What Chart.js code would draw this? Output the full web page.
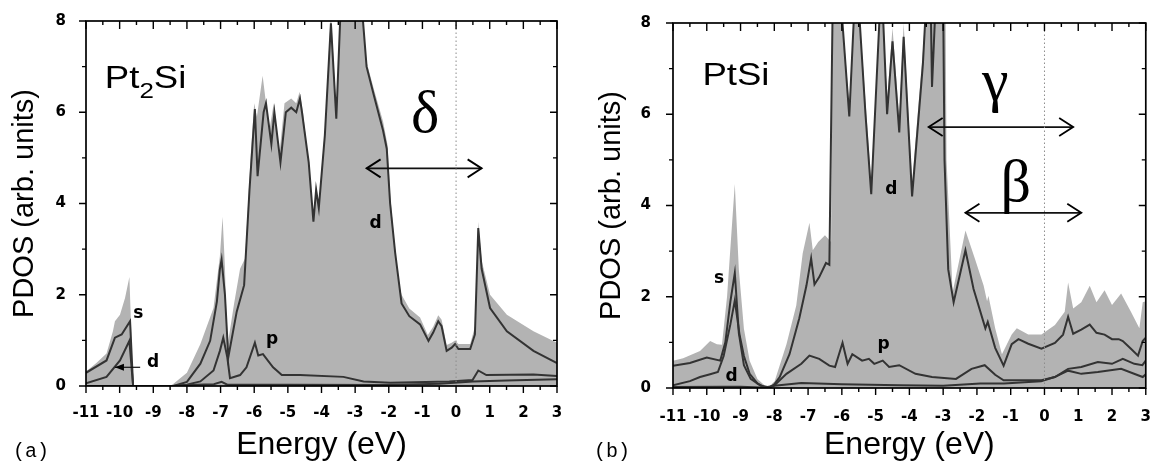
<!DOCTYPE html>
<html>
<head>
<meta charset="utf-8">
<script src="https://cdn.jsdelivr.net/npm/chart.js@4"></script>
<style>
html,body{margin:0;padding:0;background:#fff;overflow:hidden;}
#wrap{position:relative;width:1152px;height:467px;overflow:hidden;}
canvas{position:absolute;top:0;}
#ca{left:0;}
#cb{left:587px;}
</style>
</head>
<body>
<div id="wrap">
  <canvas id="ca" width="576" height="467"></canvas>
  <canvas id="cb" width="576" height="467"></canvas>
</div>
<script>
/* PDOS of Pt in Pt2Si (a) and PtSi (b) */

const X_TICKS = [-11,-10,-9,-8,-7,-6,-5,-4,-3,-2,-1,0,1,2,3];
const Y_TICKS = [0,2,4,6,8];

// ── (a) Pt2Si ───────────────────────────────────────────────────────────────
const A_TOT = [[-11,0.32],[-10.7,0.5],[-10.39,0.71],[-10.2,1.2],[-10.14,1.42],[-9.99,1.56],[-9.84,1.93],
  [-9.71,2.39],[-9.6,0],[-8.5,0],[-8.4,0.05],[-8.0,0.29],[-7.6,0.92],[-7.21,1.71],[-7.02,2.85],[-6.94,3.71],
  [-6.87,2.6],[-6.8,0.85],[-6.6,1.8],[-6.42,2.57],[-6.27,2.8],[-6.1,5.1],[-6.0,6.2],[-5.92,5.9],[-5.75,6.8],
  [-5.55,5.6],[-5.42,6.2],[-5.25,5.1],[-5.1,6.2],[-4.9,6.3],[-4.75,6.2],[-4.65,6.45],[-4.55,6.0],[-4.4,5.0],
  [-4.24,3.7],[-4.16,4.4],[-4.08,4.0],[-3.9,5.6],[-3.72,8.2],[-3.56,6.0],[-3.42,8.5],[-2.82,8.5],[-2.66,7.1],
  [-2.44,6.5],[-2.17,5.8],[-2.04,5.3],[-1.96,4.2],[-1.84,3.2],[-1.72,2.3],[-1.62,2.0],[-1.39,1.7],[-1.07,1.5],
  [-0.84,1.12],[-0.68,1.3],[-0.53,1.55],[-0.43,1.45],[-0.28,0.9],[-0.13,0.95],[-0.03,1.0],[0.07,0.92],
  [0.42,0.92],[0.56,1.3],[0.66,3.6],[0.76,2.75],[1.01,2.0],[1.51,1.56],[2.3,1.2],[3.0,0.95]];
const A_S = [[-11,0.29],[-10.39,0.56],[-10.14,1.06],[-9.94,1.13],[-9.69,1.42],[-9.6,0],[-8.4,0],[-8.0,0.02],
  [-7.2,0.04],[-6.97,0.09],[-6.8,0.03],[-5,0.03],[-2,0.02],[-0.5,0.05],[0.5,0.1],[1.5,0.12],[3.0,0.15]];
const A_P = [[-11,0],[-8.4,0],[-8.0,0.03],[-7.6,0.1],[-7.21,0.34],[-7.02,0.77],[-6.92,1.06],[-6.8,0.63],
  [-6.72,0.17],[-6.42,0.24],[-6.23,0.41],[-5.98,0.95],[-5.88,0.67],[-5.74,0.7],[-5.44,0.41],[-5.18,0.24],
  [-4.64,0.24],[-3.35,0.2],[-2.75,0.1],[-1.96,0.07],[-0.2,0.1],[0.49,0.13],[0.66,0.34],[0.9,0.24],
  [2.3,0.25],[3.0,0.22]];
const A_D = [[-11,0.06],[-10.39,0.2],[-9.99,0.56],[-9.71,0.99],[-9.6,0],[-8.4,0],[-8.0,0.09],[-7.6,0.49],
  [-7.31,0.99],[-7.11,1.85],[-7.02,2.56],[-6.97,2.77],[-6.87,2.0],[-6.77,0.63],[-6.52,1.63],[-6.3,2.21],
  [-6.14,4.3],[-5.98,6.07],[-5.9,4.6],[-5.72,6.0],[-5.65,6.2],[-5.49,5.3],[-5.4,6.0],[-5.22,4.9],[-5.06,6.0],
  [-4.9,6.1],[-4.75,6.0],[-4.64,6.3],[-4.58,6.0],[-4.38,4.9],[-4.24,3.6],[-4.16,4.3],[-4.08,3.9],[-3.9,5.5],
  [-3.72,7.95],[-3.56,5.86],[-3.42,8.5],[-2.82,8.5],[-2.66,7.0],[-2.44,6.36],[-2.17,5.6],[-2.06,5.2],
  [-1.96,4.0],[-1.81,2.92],[-1.62,1.81],[-1.39,1.53],[-1.07,1.35],[-0.82,0.99],[-0.68,1.17],[-0.53,1.42],
  [-0.43,1.31],[-0.28,0.77],[-0.13,0.84],[-0.03,0.92],[0.07,0.81],[0.42,0.81],[0.56,1.13],[0.66,3.46],
  [0.76,2.57],[1.01,1.71],[1.51,1.2],[2.3,0.77],[3.0,0.5]];

// ── (b) PtSi ────────────────────────────────────────────────────────────────
const B_TOT = [[-11,0.6],[-10.7,0.65],[-10.2,0.81],[-9.9,1.03],[-9.7,0.96],[-9.55,0.95],[-9.4,2.0],
  [-9.17,4.47],[-9.05,2.6],[-8.9,1.3],[-8.73,0.6],[-8.5,0.2],[-8.2,0],[-7.99,0.15],[-7.64,0.96],[-7.35,1.81],
  [-7.16,2.95],[-6.96,3.62],[-6.86,3.02],[-6.7,3.2],[-6.5,3.35],[-6.32,3.2],[-6.27,8.5],[-6.03,8.5],
  [-5.78,6.2],[-5.62,8.5],[-5.51,8.5],[-5.3,6.3],[-5.13,4.5],[-4.86,8.5],[-4.8,8.5],[-4.66,6.3],[-4.5,7.9],
  [-4.3,5.9],[-4.17,8.0],[-3.92,4.5],[-3.6,7.4],[-3.5,8.5],[-2.93,8.5],[-2.9,5.0],[-2.72,2.1],[-2.34,3.45],
  [-2.05,2.81],[-1.8,2.24],[-1.7,1.9],[-1.66,2.02],[-1.46,1.31],[-1.26,0.74],[-0.97,1.17],[-0.82,1.31],
  [-0.48,1.17],[-0.09,1.17],[0.31,1.38],[0.6,1.67],[0.7,2.31],[0.85,1.74],[1.09,1.88],[1.34,2.24],[1.54,1.88],
  [1.78,2.14],[2.0,1.82],[2.27,2.07],[2.56,1.67],[2.81,1.31],[2.91,1.88],[3.0,1.9]];
const B_S = [[-11,0.49],[-10.5,0.55],[-10.0,0.67],[-9.6,0.6],[-9.45,1.0],[-9.3,1.9],[-9.17,2.52],[-9.05,1.2],
  [-8.9,0.5],[-8.7,0.2],[-8.4,0.05],[-8.2,0.02],[-8.0,0.05],[-7.2,0.11],[-6.0,0.08],[-4.3,0.06],[-3.0,0.05],
  [-1.9,0.1],[-1.2,0.1],[-0.1,0.15],[0.3,0.24],[0.7,0.38],[1.09,0.31],[1.58,0.35],[2.27,0.42],[2.77,0.28],
  [2.91,0.24],[3.0,0.3]];
const B_P = [[-11,0.02],[-9.5,0.03],[-9.0,0.03],[-8.4,0.01],[-8.2,0],[-7.99,0.06],[-7.64,0.31],[-7.2,0.53],
  [-6.96,0.71],[-6.67,0.64],[-6.37,0.49],[-6.2,0.46],[-5.98,0.99],[-5.83,0.53],[-5.69,0.74],[-5.4,0.6],
  [-5.2,0.64],[-5.04,0.53],[-4.79,0.6],[-4.6,0.46],[-4.3,0.5],[-3.82,0.31],[-3.33,0.24],[-2.62,0.2],
  [-2.16,0.42],[-1.77,0.5],[-1.46,0.29],[-1.21,0.17],[-0.67,0.17],[-0.09,0.17],[0.31,0.24],[0.7,0.42],
  [1.09,0.46],[1.58,0.57],[2.0,0.53],[2.32,0.64],[2.66,0.53],[2.9,0.5],[3.0,0.6]];
const B_D = [[-11,0.06],[-10.5,0.15],[-10.2,0.24],[-9.9,0.3],[-9.67,0.35],[-9.5,0.7],[-9.3,1.4],[-9.17,1.92],
  [-9.03,1.17],[-8.9,0.7],[-8.73,0.31],[-8.5,0.1],[-8.3,0.02],[-8.15,0],[-8.0,0.08],[-7.84,0.24],[-7.55,0.74],
  [-7.26,1.53],[-7.05,2.24],[-6.91,2.84],[-6.81,2.27],[-6.67,2.43],[-6.47,2.74],[-6.37,2.7],[-6.27,8.5],
  [-6.03,8.5],[-5.78,5.95],[-5.62,8.5],[-5.51,8.5],[-5.3,6.0],[-5.13,4.25],[-4.86,8.5],[-4.8,8.5],[-4.66,6.0],
  [-4.5,7.6],[-4.3,5.6],[-4.17,7.7],[-3.92,4.2],[-3.6,7.1],[-3.5,8.5],[-3.37,8.5],[-3.33,6.6],[-3.22,8.5],
  [-3.0,8.5],[-2.96,5.0],[-2.85,2.6],[-2.69,1.88],[-2.34,3.02],[-2.1,2.17],[-1.75,1.31],[-1.68,1.45],
  [-1.46,0.88],[-1.21,0.49],[-0.97,0.96],[-0.77,1.07],[-0.48,0.97],[-0.09,0.86],[0.31,0.99],[0.55,1.17],
  [0.7,1.56],[0.85,1.19],[1.09,1.28],[1.34,1.39],[1.54,1.21],[1.78,1.17],[2.0,1.07],[2.2,1.07],[2.32,1.03],
  [2.56,0.86],[2.77,0.71],[2.91,1.03],[3.0,1.1]];

// labels & arrows (data coords)
const A_LABELS = [["s",-9.45,1.59],["d",-9.02,0.56],["p",-5.46,0.99],["d",-2.41,3.62]];
const A_GREEK  = [["δ",-0.91,6.02]];
const A_ARROWS = [[-2.66,0.76,4.77]];
const A_POINTER = [[-9.39,-10.14,0.41]];
const B_LABELS = [["s",-9.64,2.42],["d",-9.28,0.31],["p",-4.75,0.93],["d",-4.55,4.41]];
const B_GREEK  = [["γ",-1.48,6.46],["β",-0.84,4.41]];
const B_ARROWS = [[-3.43,0.85,5.72],[-2.34,1.09,3.84]];

const SANS  = '"Liberation Sans", Arial, Helvetica, sans-serif';
const WIDE  = '"DejaVu Sans", Verdana, sans-serif';
const SERIF = '"Liberation Serif", "Times New Roman", serif';
const MONO  = '"Liberation Mono", "Courier New", monospace';
const LINE = "#333", FILL = "#b3b3b3";

const xy = a => a.map(([x,y]) => ({x,y}));

// text centred on its glyph box
function centred(ctx, t, font, px, py){
    ctx.font = font;
    const m = ctx.measureText(t);
    const x0 = -(m.actualBoundingBoxRight - m.actualBoundingBoxLeft)/2;
    const y0 = (m.actualBoundingBoxAscent - m.actualBoundingBoxDescent)/2;
    ctx.fillText(t, px + x0, py + y0);
}

function chevron(ctx, px, py, dir){
    ctx.beginPath();
    ctx.moveTo(px - dir*14, py - 9);
    ctx.lineTo(px, py);
    ctx.lineTo(px - dir*14, py + 9);
    ctx.stroke();
}

const decor = {
    id: "decor",
    afterDatasetsDraw(c, args, o){
        const {ctx, chartArea:a, scales:{x, y}} = c;
        ctx.save();
        ctx.strokeStyle = "#000"; ctx.fillStyle = "#000";

        // frame + ticks (bottom/left outward, top/right inward)
        ctx.lineWidth = 1.7;
        ctx.strokeRect(a.left, a.top, a.right - a.left, a.bottom - a.top);
        ctx.lineWidth = 1.4;
        ctx.beginPath();
        X_TICKS.forEach((v, i) => {
            const p = x.getPixelForValue(v);
            ctx.moveTo(p, a.bottom); ctx.lineTo(p, a.bottom + 7);
            ctx.moveTo(p, a.top);    ctx.lineTo(p, a.top + 8);
            if(i < X_TICKS.length - 1){
                const m = x.getPixelForValue(v + 0.5);
                ctx.moveTo(m, a.bottom); ctx.lineTo(m, a.bottom + 4);
                ctx.moveTo(m, a.top);    ctx.lineTo(m, a.top + 4);
            }
        });
        Y_TICKS.forEach((v, i) => {
            const p = y.getPixelForValue(v);
            ctx.moveTo(a.left, p);  ctx.lineTo(a.left - 7, p);
            ctx.moveTo(a.right, p); ctx.lineTo(a.right - 7, p);
            if(i < Y_TICKS.length - 1){
                const m = y.getPixelForValue(v + 1);
                ctx.moveTo(a.left, m);  ctx.lineTo(a.left - 4, m);
                ctx.moveTo(a.right, m); ctx.lineTo(a.right - 4, m);
            }
        });
        ctx.stroke();

        // arrow heads
        ctx.lineWidth = 1.8;
        o.arrows.forEach(([x1, x2, yy]) => {
            const py = y.getPixelForValue(yy);
            chevron(ctx, x.getPixelForValue(x1), py, -1);
            chevron(ctx, x.getPixelForValue(x2), py, 1);
        });
        o.pointer.forEach(([x1, x2, yy]) => {
            const px = x.getPixelForValue(x2), py = y.getPixelForValue(yy);
            ctx.beginPath();
            ctx.moveTo(px, py); ctx.lineTo(px + 9, py - 3.5); ctx.lineTo(px + 9, py + 3.5);
            ctx.closePath(); ctx.fill();
        });

        // orbital labels, greek letters
        o.labels.forEach(([t, vx, vy]) =>
            centred(ctx, t, `bold 17px ${WIDE}`, x.getPixelForValue(vx), y.getPixelForValue(vy)));
        o.greek.forEach(([t, vx, vy]) =>
            centred(ctx, t, `60px ${SERIF}`, x.getPixelForValue(vx), y.getPixelForValue(vy)));

        // compound name
        ctx.textBaseline = "alphabetic";
        const px = x.getPixelForValue(o.name.x);
        const py = y.getPixelForValue(o.name.y);
        ctx.save();
        ctx.translate(px, py); ctx.scale(1.18, 1);
        let cx = 0;
        o.name.parts.forEach(([t, sub]) => {
            ctx.font = sub ? `22px ${SANS}` : `31px ${SANS}`;
            ctx.fillText(t, cx, sub ? 10 : 0);
            cx += ctx.measureText(t).width;
        });
        ctx.restore();

        // panel tag
        ctx.font = `20px ${MONO}`;
        ctx.fillText(o.tag, a.left + o.tagDx, 457);
        ctx.restore();
    }
};

function makePanel(id, P){
    const line = (d) => ({data: xy(d), borderColor: LINE, borderWidth: 2, fill: false});
    const datasets = [
        {data: xy([[0,0],[0,8]]), borderColor: "#8c8c8c", borderWidth: 1, borderDash: [1.5,2.5], fill: false},
        ...P.arrows.map(([x1,x2,yy]) => ({data: xy([[x1,yy],[x2,yy]]), borderColor: "#111", borderWidth: 1.8, fill: false})),
        ...P.pointer.map(([x1,x2,yy]) => ({data: xy([[x1,yy],[x2,yy]]), borderColor: "#111", borderWidth: 1.2, fill: false})),
        line(P.d), line(P.p), line(P.s),
        {data: xy(P.tot), borderWidth: 0, borderColor: FILL, backgroundColor: FILL, fill: "origin"}
    ];
    return new Chart(document.getElementById(id), {
        type: "line",
        data: {datasets},
        plugins: [decor],
        options: {
            responsive: false, animation: false, devicePixelRatio: 1,
            layout: {padding: {left: 0, top: 14, right: P.padR, bottom: 0}},
            elements: {point: {radius: 0}, line: {tension: 0}},
            datasets: {line: {clip: 0}},
            plugins: {legend: {display: false}, tooltip: {enabled: false}, decor: P},
            scales: {
                x: {
                    type: "linear", min: -11, max: 3,
                    afterBuildTicks: s => { s.ticks = X_TICKS.map(v => ({value: v})); },
                    afterFit: s => { s.height = P.xH; },
                    grid: {display: false}, border: {display: false},
                    ticks: {autoSkip: false, maxRotation: 0, padding: P.xPad, color: "#000",
                            font: {family: WIDE, size: 15, weight: "bold"}},
                    title: {display: true, text: "Energy (eV)", color: "#000",
                            font: {family: SANS, size: 32}, padding: {bottom: 3}}
                },
                y: {
                    min: 0, max: 8,
                    afterBuildTicks: s => { s.ticks = Y_TICKS.map(v => ({value: v})); },
                    afterFit: s => { s.width = 86; },
                    grid: {display: false}, border: {display: false},
                    ticks: {padding: P.yPad, color: "#000", font: {family: WIDE, size: 15, weight: "bold"}},
                    title: {display: true, text: "PDOS (arb. units)", color: "#000",
                            font: {family: SANS, size: 29}, padding: {top: 8}}
                }
            }
        }
    });
}

makePanel("ca", {tot: A_TOT, s: A_S, p: A_P, d: A_D, labels: A_LABELS, greek: A_GREEK,
    arrows: A_ARROWS, pointer: A_POINTER, tag: "(a)", tagDx: -73,
    name: {x: -10.44, y: 6.54, parts: [["Pt",0],["2",1],["Si",0]]},
    padR: 19, xH: 81, xPad: 10, yPad: 12});

makePanel("cb", {tot: B_TOT, s: B_S, p: B_P, d: B_D, labels: B_LABELS, greek: B_GREEK,
    arrows: B_ARROWS, pointer: [], tag: "(b)", tagDx: -79,
    name: {x: -10.13, y: 6.65, parts: [["PtSi",0]]},
    padR: 15, xH: 79, xPad: 12, yPad: 14});
</script>
</body>
</html>
